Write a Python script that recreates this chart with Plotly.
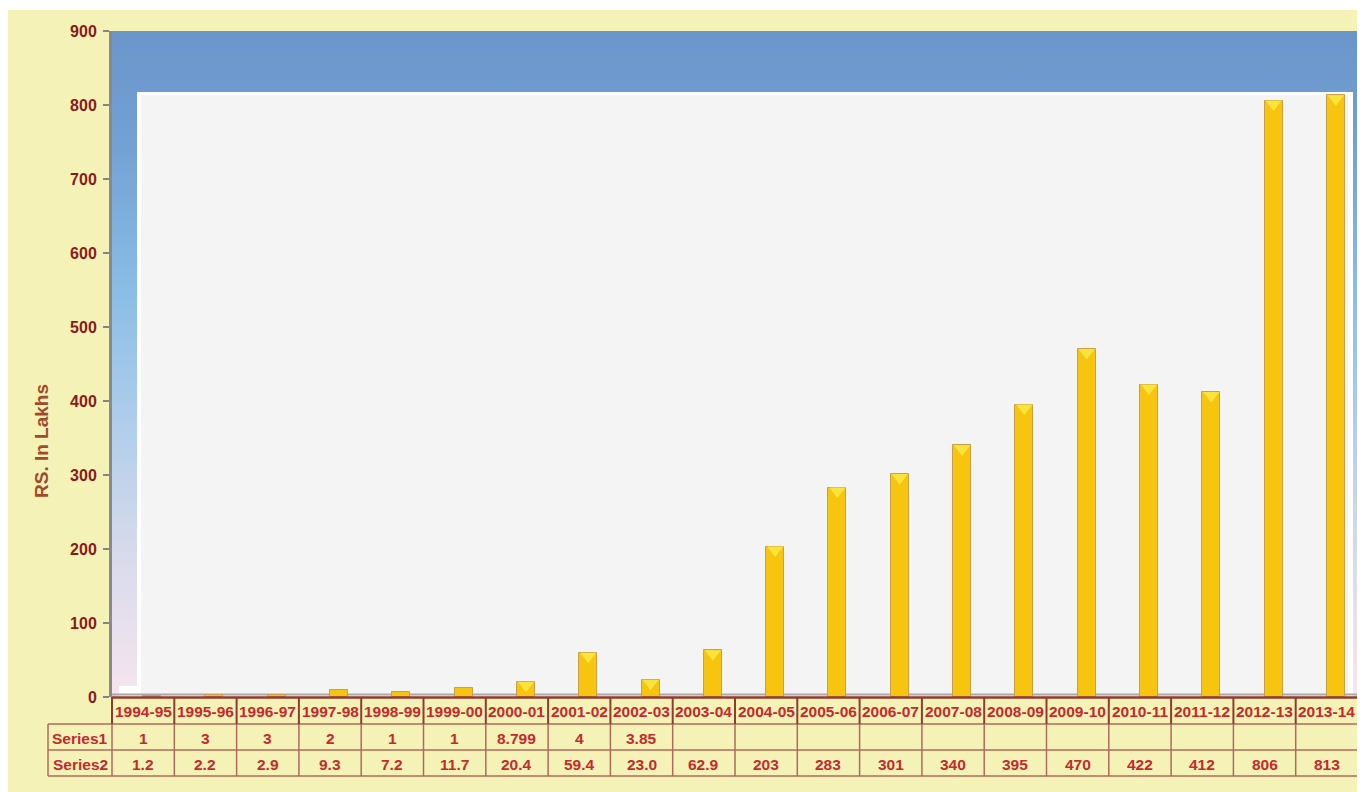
import base64
import plotly.graph_objects as go

# ---------------- data ----------------
categories = ["1994-95", "1995-96", "1996-97", "1997-98", "1998-99", "1999-00",
              "2000-01", "2001-02", "2002-03", "2003-04", "2004-05", "2005-06",
              "2006-07", "2007-08", "2008-09", "2009-10", "2010-11", "2011-12",
              "2012-13", "2013-14"]
series1_labels = ["1", "3", "3", "2", "1", "1", "8.799", "4", "3.85",
                  "", "", "", "", "", "", "", "", "", "", ""]
series2_values = [1.2, 2.2, 2.9, 9.3, 7.2, 11.7, 20.4, 59.4, 23.0, 62.9,
                  203, 283, 301, 340, 395, 470, 422, 412, 806, 813]
series2_labels = ["1.2", "2.2", "2.9", "9.3", "7.2", "11.7", "20.4", "59.4", "23.0",
                  "62.9", "203", "283", "301", "340", "395", "470", "422", "412",
                  "806", "813"]
y_ticks = [0, 100, 200, 300, 400, 500, 600, 700, 800, 900]
y_title = "RS. In Lakhs"
row_names = ["Series1", "Series2"]

# ---------------- geometry (screen pixels; page body has an 8px margin) ----------------
OFF = 8
W, H = 1355, 784            # figure size (screen 8..1363 x 8..792)
PX0, PX1 = 112, 1358        # plot / table x extent
PY_TOP, PY_BOT = 31, 697    # plot y extent (900 -> 0)
N = len(categories)
COLW = (PX1 - PX0) / N
ROW_Y = [697, 724, 750, 776]
LABEL_X0 = 48
BAR_SHIFT = 9 / COLW        # 3D depth offset of bars (category units)


def px(x):
    return (x - OFF) / W


def py(y):
    return (H - (y - OFF)) / H


BG = "#F5F2B8"
TXT_RED = "#C62A2A"
TICK_RED = "#8B1A1A"
GRID_BROWN = "#B06A5C"
DARK_BROWN = "#933A2E"

fig = go.Figure()

x_idx = list(range(N))
fig.add_trace(go.Bar(
    x=x_idx, y=series2_values, width=0.29,
    marker=dict(color="#F7C510", line=dict(color="#C9A049", width=1)),
    hoverinfo="skip", showlegend=False,
))
# lighter pyramid tops of the 3D columns
top_x = [i for i, v in zip(x_idx, series2_values) if v >= 15]
top_y = [v - 4.5 for v in series2_values if v >= 15]
fig.add_trace(go.Scatter(
    x=top_x, y=top_y, mode="markers",
    marker=dict(symbol="triangle-down", size=14, color="#FAE43C",
                line=dict(width=0)),
    hoverinfo="skip", showlegend=False,
))

# ---------------- wall gradient (decoration) ----------------
svg = (
    '<svg xmlns="http://www.w3.org/2000/svg" width="100" height="100" '
    'viewBox="0 0 100 100" preserveAspectRatio="none">'
    '<defs><linearGradient id="g" x1="0" y1="0" x2="0" y2="1">'
    '<stop offset="0" stop-color="#6A95CA"/>'
    '<stop offset="0.18" stop-color="#74A2D5"/>'
    '<stop offset="0.40" stop-color="#8CBEE5"/>'
    '<stop offset="0.56" stop-color="#AACBEA"/>'
    '<stop offset="0.76" stop-color="#D3D9EB"/>'
    '<stop offset="1" stop-color="#F7E5EF"/>'
    '</linearGradient></defs>'
    '<rect x="0" y="0" width="100" height="100" fill="url(#g)"/></svg>'
)
src = "data:image/svg+xml;base64," + base64.b64encode(svg.encode()).decode()

images = [dict(source=src, xref="paper", yref="paper",
               x=px(PX0), y=py(PY_TOP), sizex=px(PX1) - px(PX0),
               sizey=py(PY_TOP) - py(PY_BOT), xanchor="left", yanchor="top",
               sizing="stretch", layer="below")]

shapes = []
# thin white strip at the very top of the card
shapes.append(dict(type="rect", xref="paper", yref="paper", x0=0, x1=1,
                   y0=py(10), y1=1, fillcolor="white", line=dict(width=0),
                   layer="below"))
# back wall panel
shapes.append(dict(type="rect", xref="paper", yref="paper", x0=px(137), x1=px(1353),
                   y0=py(92), y1=py(PY_BOT), fillcolor="#FFFFFF", line=dict(width=0),
                   layer="below"))
shapes.append(dict(type="rect", xref="paper", yref="paper", x0=px(141), x1=px(1348),
                   y0=py(95), y1=py(PY_BOT), fillcolor="#F4F4F4", line=dict(width=0),
                   layer="below"))
# floor corner
shapes.append(dict(type="rect", xref="paper", yref="paper", x0=px(119), x1=px(141),
                   y0=py(686), y1=py(PY_BOT), fillcolor="#FFFFFF", line=dict(width=0),
                   layer="below"))
# floor edge
shapes.append(dict(type="line", xref="paper", yref="paper", x0=px(PX0), x1=px(PX1),
                   y0=py(694.5), y1=py(694.5), line=dict(color="#A9A9A9", width=2),
                   layer="below"))

# ---------------- data table ----------------
def hline(y, x0, x1, color, w):
    shapes.append(dict(type="line", xref="paper", yref="paper", x0=px(x0), x1=px(x1),
                       y0=py(y), y1=py(y), line=dict(color=color, width=w)))


def vline(x, y0, y1, color, w):
    shapes.append(dict(type="line", xref="paper", yref="paper", x0=px(x), x1=px(x),
                       y0=py(y0), y1=py(y1), line=dict(color=color, width=w)))


hline(ROW_Y[1], LABEL_X0, PX1, GRID_BROWN, 1.5)
hline(ROW_Y[2], LABEL_X0, PX1, GRID_BROWN, 1.5)
hline(ROW_Y[3], LABEL_X0, PX1, GRID_BROWN, 1.5)
vline(LABEL_X0, ROW_Y[1], ROW_Y[3], GRID_BROWN, 1.5)
for i in range(N + 1):
    x = PX0 + i * COLW
    vline(x, ROW_Y[0], ROW_Y[1], DARK_BROWN, 2)
    vline(x, ROW_Y[1], ROW_Y[3], GRID_BROWN, 1.5)
hline(ROW_Y[0] + 0.5, PX0, PX1, DARK_BROWN, 2.5)

annotations = []
tfont = dict(family="Arial, Liberation Sans, sans-serif", size=15.5, color=TXT_RED)
for i, cat in enumerate(categories):
    cx = px(PX0 + (i + 0.5) * COLW)
    annotations.append(dict(text=f"<b>{cat}</b>", x=cx, y=py((ROW_Y[0] + ROW_Y[1]) / 2 + 1),
                            xref="paper", yref="paper", showarrow=False, font=tfont,
                            xanchor="center", yanchor="middle"))
    for r, labels in enumerate([series1_labels, series2_labels]):
        if labels[i]:
            annotations.append(dict(text=f"<b>{labels[i]}</b>", x=cx,
                                    y=py((ROW_Y[r + 1] + ROW_Y[r + 2]) / 2 + 1),
                                    xref="paper", yref="paper", showarrow=False,
                                    font=tfont, xanchor="center", yanchor="middle"))
for r, name in enumerate(row_names):
    annotations.append(dict(text=f"<b>{name}</b>", x=px((LABEL_X0 + PX0) / 2),
                            y=py((ROW_Y[r + 1] + ROW_Y[r + 2]) / 2 + 1),
                            xref="paper", yref="paper", showarrow=False, font=tfont,
                            xanchor="center", yanchor="middle"))
# y axis title
annotations.append(dict(text=f"<b>{y_title}</b>", x=px(41), y=py(441), xref="paper",
                        yref="paper", showarrow=False, textangle=-90,
                        font=dict(family="Arial, Liberation Sans, sans-serif", size=19,
                                  color="#A34A2C"),
                        xanchor="center", yanchor="middle"))

fig.update_layout(
    width=W, height=H,
    autosize=False,
    margin=dict(l=0, r=0, t=0, b=0, pad=0, autoexpand=False),
    paper_bgcolor=BG,
    plot_bgcolor="rgba(0,0,0,0)",
    bargap=0,
    xaxis=dict(domain=[px(PX0), px(PX1)],
               range=[-0.5 - BAR_SHIFT, N - 0.5 - BAR_SHIFT],
               showticklabels=False, showgrid=False, zeroline=False, ticks="",
               automargin=False, fixedrange=True),
    yaxis=dict(domain=[py(PY_BOT), py(PY_TOP)], range=[0, 900],
               tickvals=y_ticks, ticktext=[f"<b>{t}</b>" for t in y_ticks],
               tickfont=dict(family="Arial, Liberation Sans, sans-serif", size=16,
                             color=TICK_RED),
               ticks="outside", ticklen=6, tickwidth=2, tickcolor="#858585",
               ticklabelstandoff=3, automargin=False,
               showline=True, linecolor="#8A8A8A", linewidth=3,
               showgrid=False, zeroline=False, fixedrange=True),
    images=images,
    shapes=shapes,
    annotations=annotations,
    showlegend=False,
)

fig.write_html("out.html")
